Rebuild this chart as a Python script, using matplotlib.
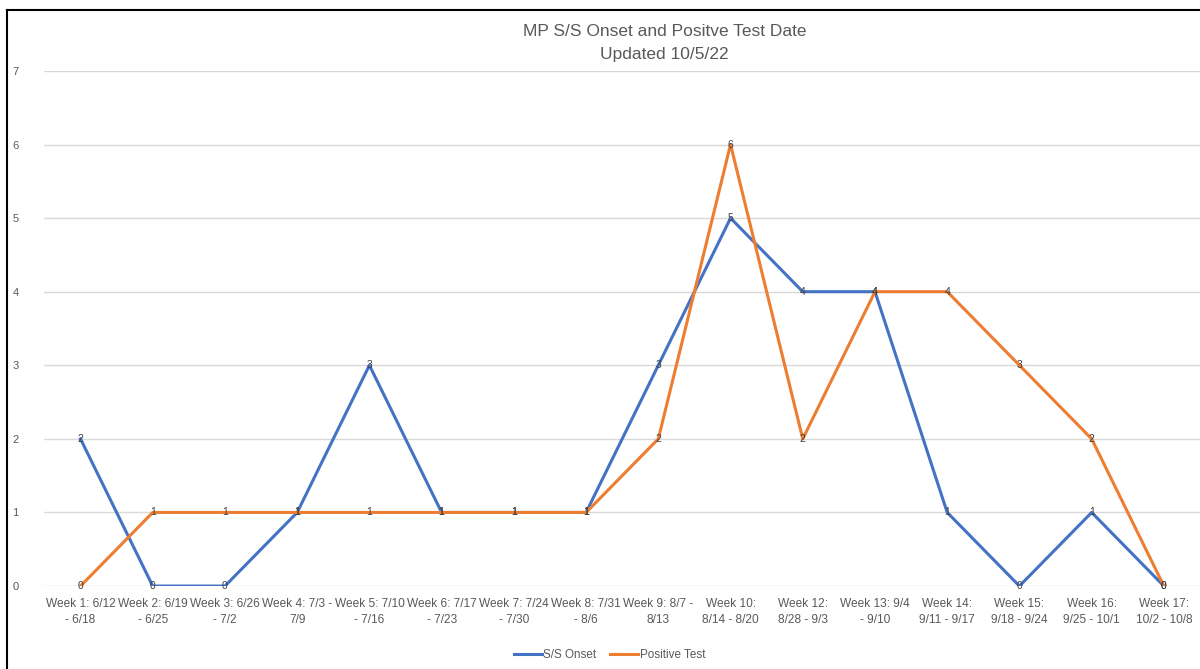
import matplotlib.pyplot as plt
from matplotlib.lines import Line2D

plt.rcParams['font.family'] = ['Liberation Sans', 'DejaVu Sans']

weeks = ["Week 1: 6/12\n- 6/18", "Week 2: 6/19\n- 6/25", "Week 3: 6/26\n- 7/2",
         "Week 4: 7/3 -\n7/9", "Week 5: 7/10\n- 7/16", "Week 6: 7/17\n- 7/23",
         "Week 7: 7/24\n- 7/30", "Week 8: 7/31\n- 8/6", "Week 9: 8/7 -\n8/13",
         "Week 10:\n8/14 - 8/20", "Week 12:\n8/28 - 9/3", "Week 13: 9/4\n- 9/10",
         "Week 14:\n9/11 - 9/17", "Week 15:\n9/18 - 9/24", "Week 16:\n9/25 - 10/1",
         "Week 17:\n10/2 - 10/8"]
onset = [2, 0, 0, 1, 3, 1, 1, 1, 3, 5, 4, 4, 1, 0, 1, 0]
positive = [0, 1, 1, 1, 1, 1, 1, 1, 2, 6, 2, 4, 4, 3, 2, 0]

blue = "#4472C4"
orange = "#ED7D31"
gray = "#595959"

fig = plt.figure(figsize=(12, 6.69), dpi=100)
ax = fig.add_axes([0.037, 0.124, 0.963, 0.77])

x = list(range(len(weeks)))
ax.plot(x, onset, color=blue, lw=2.2, label="S/S Onset", zorder=3)
ax.plot(x, positive, color=orange, lw=2.2, label="Positive Test", zorder=3)

# data labels centred on the points, like Excel
for xi, v in zip(x, onset):
    ax.text(xi, v, str(v), ha="center", va="center", fontsize=7.5, color="#404040", zorder=4)
for xi, v in zip(x, positive):
    ax.text(xi, v, str(v), ha="center", va="center", fontsize=7.5, color="#404040", zorder=4)

ax.set_xlim(-0.5, 15.5)
ax.set_ylim(0, 7)
ax.set_yticks(range(8))
ax.set_xticks(x)
ax.set_xticklabels(weeks, fontsize=8.6, color=gray, linespacing=1.45)
ax.tick_params(axis="y", labelsize=8, labelcolor=gray, length=0, pad=18.5)
ax.tick_params(axis="x", length=0, pad=8.5)
ax.grid(axis="y", color="#d9d9d9", lw=1)
ax.set_axisbelow(True)
for s in ax.spines.values():
    s.set_visible(False)

fig.text(0.554, 0.953, "MP S/S Onset and Positve Test Date", ha="center", va="center",
         fontsize=12.5, color=gray)
fig.text(0.554, 0.919, "Updated 10/5/22", ha="center", va="center", fontsize=12.5, color=gray)

fig.legend(loc="center", bbox_to_anchor=(0.508, 0.021), ncol=2, frameon=False,
           fontsize=8.4, labelcolor=gray, handlelength=2.4, handletextpad=0.15,
           columnspacing=1.2)

# black frame on the top and left, as in the screenshot
fig.add_artist(Line2D([0.006, 0.006], [0, 0.985], color="black", lw=1.5, transform=fig.transFigure))
fig.add_artist(Line2D([0.006, 1.0], [0.985, 0.985], color="black", lw=1.5, transform=fig.transFigure))

fig.savefig("out.png", dpi=100)
